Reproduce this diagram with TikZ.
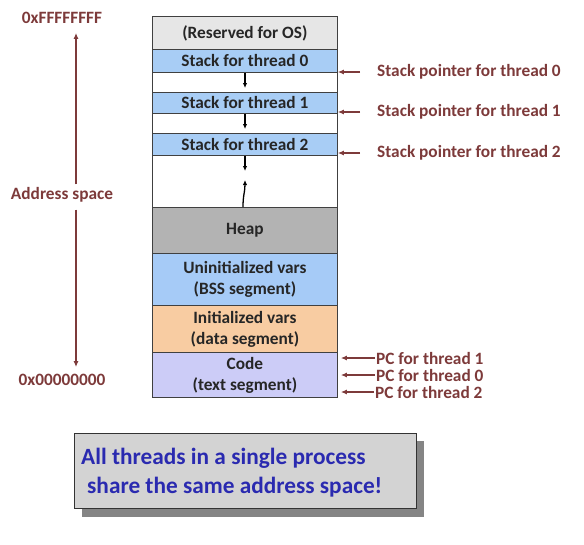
\documentclass[tikz,border=0pt]{standalone}
\usepackage{fontspec}
\setmainfont{Carlito}
\usetikzlibrary{arrows.meta}
\definecolor{dred}{HTML}{7D3A3A}
\definecolor{osgray}{HTML}{E6E6E6}
\definecolor{stackblue}{HTML}{A8CDF5}
\definecolor{heapgray}{HTML}{B3B3B3}
\definecolor{bssblue}{HTML}{A6CBF7}
\definecolor{dataor}{HTML}{F8CCA2}
\definecolor{codelav}{HTML}{CCCCF7}
\definecolor{boxgray}{HTML}{D3D3D3}
\definecolor{shadowgray}{HTML}{858585}
\definecolor{msgblue}{HTML}{2A2AB0}
\begin{document}
\begin{tikzpicture}[x=1pt,y=-1pt,
  seg/.style={draw=black!75,line width=0.8pt,minimum width=185pt,anchor=north west,inner sep=0pt,
    font=\bfseries\fontsize{17.3}{21}\selectfont,align=center,text=black!85},
  redlab/.style={text=dred,font=\bfseries\fontsize{17.3}{21}\selectfont,inner sep=1pt},
  redarrow/.style={draw=dred,line width=1.2pt,-{Latex[length=6pt,width=5pt]}},
  gaparrow/.style={draw=black,line width=1.3pt,-{Latex[length=5pt,width=4.5pt]}}]
\useasboundingbox (0,0) rectangle (584,544);
% memory column
\node[seg,fill=osgray,minimum height=33pt] (os) at (152,16) {(Reserved for OS)};
\node[seg,fill=stackblue,minimum height=23pt] (st0) at (152,49) {Stack for thread 0};
\node[seg,fill=white,minimum height=20pt] (g0) at (152,72) {};
\node[seg,fill=stackblue,minimum height=21pt] (st1) at (152,92) {Stack for thread 1};
\node[seg,fill=white,minimum height=20pt] (g1) at (152,113) {};
\node[seg,fill=stackblue,minimum height=22pt] (st2) at (152,133) {Stack for thread 2};
\node[seg,fill=white,minimum height=52pt] (g2) at (152,155) {};
\node[seg,fill=heapgray,minimum height=46pt] (heap) at (152,207) {Heap};
\node[seg,fill=bssblue,minimum height=52pt] (bss) at (152,253) {Uninitialized vars\\(BSS segment)};
\node[seg,fill=dataor,minimum height=47pt] (data) at (152,305) {Initialized vars\\(data segment)};
\node[seg,fill=codelav,minimum height=45pt] (code) at (152,352) {Code\\(text segment)};
% growth arrows
\coordinate (a0) at (245,88);
\coordinate (a1) at (245,129);
\coordinate (a2) at (245,171);
\coordinate (a3) at (245,180);
\draw[gaparrow] (st0.south -| a0) -- (a0);
\draw[gaparrow] (st1.south -| a1) -- (a1);
\draw[gaparrow] (st2.south -| a2) -- (a2);
\draw[gaparrow] (heap.north -| 243,0) .. controls (243,195) and (245,192) .. (a3);
% address space
\node[redlab] (top) at (62,18) {0xFFFFFFFF};
\node[redlab] (addr) at (62,195) {Address space};
\node[redlab] (bot) at (62,380) {0x00000000};
\draw[redarrow] ([xshift=14pt,yshift=2pt]addr.north) -- ([xshift=14pt,yshift=-8pt]top.south);
\draw[redarrow] ([xshift=14pt,yshift=-6pt]addr.south) -- ([xshift=14pt,yshift=6pt]bot.north);
% stack pointers
\node[redlab,anchor=west] (sp0) at (376,72) {Stack pointer for thread 0};
\node[redlab,anchor=west] (sp1) at (376,112) {Stack pointer for thread 1};
\node[redlab,anchor=west] (sp2) at (376,153) {Stack pointer for thread 2};
\draw[redarrow] ([xshift=-16pt]sp0.west) -- (sp0.west -| st0.east);
\draw[redarrow] ([xshift=-16pt]sp1.west) -- (sp1.west -| st1.east);
\draw[redarrow] ([xshift=-16pt]sp2.west) -- (sp2.west -| st2.east);
% program counters
\node[redlab,anchor=west] (pc1) at (375,358) {PC for thread 1};
\node[redlab,anchor=west] (pc0) at (375,375) {PC for thread 0};
\node[redlab,anchor=west] (pc2) at (374,392) {PC for thread 2};
\draw[redarrow] (pc1.west) -- ([xshift=3pt]pc1.west -| code.east);
\draw[redarrow] (pc0.west) -- ([xshift=3pt]pc0.west -| code.east);
\draw[redarrow] (pc2.west) -- ([xshift=3pt]pc2.west -| code.east);
% message box
\fill[shadowgray] (82,441) rectangle (424,517);
\node[draw=black!80,line width=0.8pt,fill=boxgray,minimum width=342pt,minimum height=75pt,anchor=north west,inner sep=0pt] (msg) at (74,433) {};
\node[anchor=west,text=msgblue,font=\bfseries\fontsize{23.3}{28}\selectfont,inner sep=0pt] (m1) at (81,458) {All threads in a single process};
\node[anchor=west,text=msgblue,font=\bfseries\fontsize{23.3}{28}\selectfont,inner sep=0pt] (m2) at (87,487) {share the same address space!};
\end{tikzpicture}
\end{document}
